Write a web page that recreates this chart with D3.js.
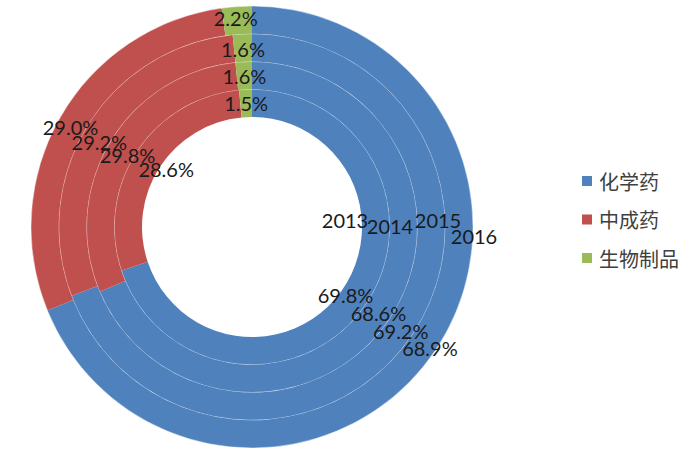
<!DOCTYPE html>
<html>
<head>
<meta charset="utf-8">
<script src="https://cdn.jsdelivr.net/npm/d3@7/dist/d3.min.js"></script>
<style>
html,body{margin:0;padding:0;background:#fff;}
svg{display:block;}
</style>
</head>
<body>
<svg id="chart" width="700" height="449"></svg>
<script>
// ---- data ----
const years = ['2013', '2014', '2015', '2016'];
const categories = ['化学药', '中成药', '生物制品'];
const chemical = [69.8, 68.6, 69.2, 68.9];
const tcm = [28.6, 29.8, 29.2, 29.0];
const biologic = [1.5, 1.6, 1.6, 2.2];

// ---- layout / style ----
const W = 700, H = 449;
const cx = 252, cy = 227;
const rInner = 110, rOuter = 221;
const colors = ['#4F81BD', '#C0504D', '#9BBB59'];
const yearLabelOffsets = [[93, -7.5], [138, -1.5], [186, -7.5], [222, 8.5]];
// small label nudges (per ring, per category) mimicking the original's label placement
const labelNudge = [
  [[-7, -4], [18, 10], [0, 0]],
  [[0, 2], [6, 5], [0, 0]],
  [[1, 2], [0, 9], [0, 1]],
  [[6, 5], [-2, 3], [-2, -2]]
];

const svg = d3.select('#chart');
const g = svg.append('g').attr('transform', `translate(${cx},${cy})`);

const ring = d3.scaleBand().domain(years).range([rInner, rOuter]).paddingInner(0);
const color = d3.scaleOrdinal().domain(categories).range(colors);
const pie = d3.pie().sort(null).value(d => d.v);
const fmt = d3.format('.1f');

const series = [chemical, tcm, biologic];

years.forEach((yr, i) => {
  const rows = categories.map((c, k) => ({ cat: c, v: series[k][i] }));
  const arcs = pie(rows);
  const r0 = ring(yr), r1 = ring(yr) + ring.bandwidth();
  const arc = d3.arc().innerRadius(r0).outerRadius(r1);

  const rg = g.append('g');
  rg.selectAll('path').data(arcs).join('path')
    .attr('d', arc)
    .attr('fill', d => color(d.data.cat))
    .attr('stroke', 'none');

  rg.append('circle').attr('r', r1).attr('fill', 'none')
    .attr('stroke', 'rgba(255,255,255,0.45)').attr('stroke-width', 1);
});

// percentage labels
years.forEach((yr, i) => {
  const rows = categories.map((c, k) => ({ cat: c, v: series[k][i], k }));
  const arcs = pie(rows);
  const r0 = ring(yr), r1 = ring(yr) + ring.bandwidth();
  const arc = d3.arc().innerRadius(r0).outerRadius(r1);
  g.append('g').selectAll('text').data(arcs).join('text')
    .attr('transform', d => {
      const c = arc.centroid(d);
      const n = labelNudge[i][d.data.k];
      return `translate(${c[0] + n[0]},${c[1] + n[1]})`;
    })
    .attr('text-anchor', 'middle')
    .attr('dominant-baseline', 'central')
    .attr('font-family', 'Lato, "Open Sans", sans-serif')
    .attr('font-size', 20)
    .attr('fill', '#1a1a1a')
    .text(d => fmt(d.data.v) + '%');
});

// series (year) labels
g.append('g').selectAll('text').data(years).join('text')
  .attr('x', (d, i) => yearLabelOffsets[i][0])
  .attr('y', (d, i) => yearLabelOffsets[i][1])
  .attr('text-anchor', 'middle')
  .attr('dominant-baseline', 'central')
  .attr('font-family', 'Lato, "Open Sans", sans-serif')
  .attr('font-size', 20)
  .attr('fill', '#1a1a1a')
  .text(d => d);

// legend
const legend = svg.append('g').attr('transform', 'translate(582,181)');
const li = legend.selectAll('g').data(categories).join('g')
  .attr('transform', (d, i) => `translate(0,${i * 38.5})`);
li.append('rect').attr('x', 0).attr('y', -5).attr('width', 10).attr('height', 10)
  .attr('fill', d => color(d));
li.append('text').attr('x', 17).attr('y', 0)
  .attr('dominant-baseline', 'central')
  .attr('font-family', '"Noto Sans CJK SC", sans-serif')
  .attr('font-size', 20)
  .attr('fill', '#404040')
  .text(d => d);
</script>
</body>
</html>
